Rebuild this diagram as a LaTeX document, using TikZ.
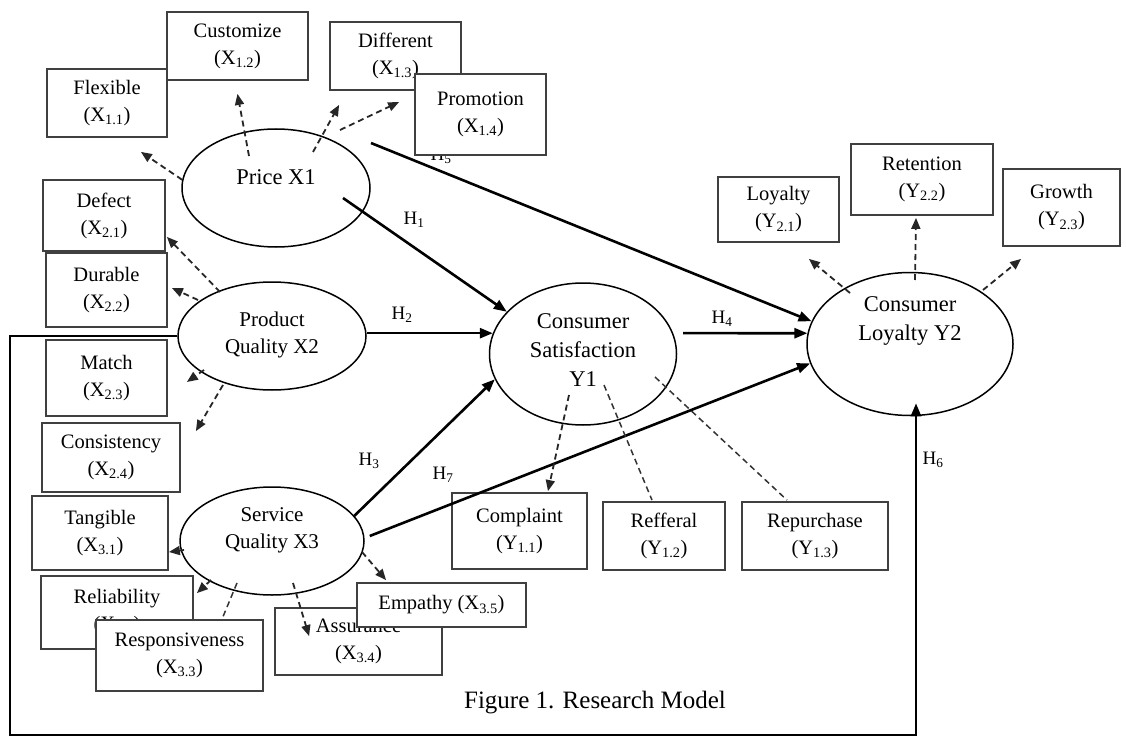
\documentclass[tikz,border=0pt]{standalone}
\usepackage{fontspec}
\setmainfont{Liberation Serif}
\usetikzlibrary{arrows.meta,shapes.geometric,calc}
\begin{document}
\begin{tikzpicture}[x=1pt,y=-1pt,
  box/.style={draw=black!75, line width=1.8pt, fill=white, align=center, inner sep=0pt, font=\fontsize{20.5}{27}\selectfont},
  ell/.style={draw, ellipse, line width=1.5pt, inner sep=0pt},
  elltext/.style={align=center, inner sep=0pt, font=\fontsize{22.5}{29}\selectfont},
  elltexts/.style={align=center, inner sep=0pt, font=\fontsize{21}{27}\selectfont},
  hyp/.style={line width=2.6pt, -{Triangle[length=13pt,width=10pt]}},
  ind/.style={line width=1.8pt, black!85, dash pattern=on 6pt off 4pt, -{Triangle[length=11pt,width=9pt]}},
  indn/.style={line width=1.5pt, black!80, dash pattern=on 6pt off 4pt},
  hl/.style={font=\fontsize{19}{22}\selectfont, inner sep=0pt}
]
\useasboundingbox[fill=white] (0,0) rectangle (1126,738);

% indicator boxes
\node[box, minimum width=120, minimum height=68] (flex) at (107,103) {Flexible\\(X\textsubscript{1.1})};
\node[box, minimum width=141, minimum height=68] (cust) at (237.5,46) {Customize\\(X\textsubscript{1.2})};
\node[box, minimum width=131, minimum height=68] (diff) at (395.5,56) {Different\\(X\textsubscript{1.3})};
\node[hl, anchor=base] (h5) at (441,161) {H\textsubscript{5}};
\node[box, minimum width=131, minimum height=81] (promo) at (480.5,114.5) {Promotion\\(X\textsubscript{1.4})};
\node[box, minimum width=122, minimum height=71] (defect) at (104,215.5) {Defect\\(X\textsubscript{2.1})};
\node[box, minimum width=121, minimum height=74] (durable) at (106.5,290) {Durable\\(X\textsubscript{2.2})};
\node[box, minimum width=121, minimum height=76] (match) at (106.5,378) {Match\\(X\textsubscript{2.3})};
\node[box, minimum width=138, minimum height=69] (consist) at (111,457.5) {Consistency\\(X\textsubscript{2.4})};
\node[box, minimum width=136, minimum height=74] (tang) at (100,533) {Tangible\\(X\textsubscript{3.1})};
\node[box, minimum width=152, minimum height=73] (rel) at (117,612.5) {Reliability\\(X\textsubscript{3.2})};
\node[box, minimum width=167, minimum height=71] (resp) at (179.5,655.5) {Responsiveness\\(X\textsubscript{3.3})};
\node[box, minimum width=167, minimum height=67] (assur) at (358.5,641.5) {Assurance\\(X\textsubscript{3.4})};
\node[box, minimum width=169, minimum height=44] (emp) at (441.5,605) {Empathy (X\textsubscript{3.5})};
\node[box, minimum width=135, minimum height=76] (compl) at (519.5,531) {Complaint\\(Y\textsubscript{1.1})};
\node[box, minimum width=122, minimum height=68] (reff) at (664,536) {Refferal\\(Y\textsubscript{1.2})};
\node[box, minimum width=146, minimum height=68] (repur) at (815,536) {Repurchase\\(Y\textsubscript{1.3})};
\node[box, minimum width=121, minimum height=65] (loyal) at (778.5,209.5) {Loyalty\\(Y\textsubscript{2.1})};
\node[box, minimum width=142, minimum height=71] (reten) at (922,179.5) {Retention\\(Y\textsubscript{2.2})};
\node[box, minimum width=117, minimum height=77] (growth) at (1061.5,207.5) {Growth\\(Y\textsubscript{2.3})};

% latent variables
\node[ell, minimum width=188, minimum height=118] (price) at (276,188) {};
\node[ell, minimum width=188, minimum height=108] (pq) at (272,336) {};
\node[ell, minimum width=184, minimum height=108] (sq) at (272,541) {};
\node[ell, minimum width=187, minimum height=142] (cs) at (583,354) {};
\node[ell, minimum width=206, minimum height=143] (cl) at (910,344) {};
\node[elltext] (pricet) at (276,177) {Price X1};
\node[elltexts] (pqt) at (272,335) {Product\\Quality X2};
\node[elltexts] (sqt) at (272,530) {Service\\Quality X3};
\node[elltext] (cst) at (583,350) {Consumer\\Satisfaction\\Y1};
\node[elltext] (clt) at (910,321) {Consumer\\Loyalty Y2};

% hypothesis labels
\node[hl] (h1) at (414,220) {H\textsubscript{1}};
\node[hl] (h2) at (402,315) {H\textsubscript{2}};
\node[hl] (h3) at (369,461) {H\textsubscript{3}};
\node[hl] (h4) at (722,319) {H\textsubscript{4}};
\node[hl] (h6) at (933,460) {H\textsubscript{6}};
\node[hl] (h7) at (443,475) {H\textsubscript{7}};

% caption
\node[font=\fontsize{25}{29}\selectfont, inner sep=0pt] (cap) at (595,703) {Figure 1. Research Model};

% structural paths
\coordinate (fb1) at (10,735);
\coordinate (fb2) at (916,735);
\coordinate (h5s) at (371,143);
\draw[hyp] (pq.west) -| (fb1) -- (fb2) -- ([shift={(6,-13)}]cl.south);
\draw[hyp] ([shift={(67,10)}]price.center) -- (cs.151);
\draw[hyp] (pq.east |- cs.167) -- (cs.167);
\draw[hyp] (sq.17) -- (cs.196);
\draw[hyp] ([shift={(10,0)}]cs.13) -- (cl.174);
\draw[hyp] (h5s) -- (cl.167);
\draw[hyp] ([shift={(5,-5)}]sq.east) -- (cl.191);

% measurement paths
\draw[ind] (price.175) -- ([shift={(-27,14)}]flex.south east);
\draw[ind] ([shift={(-27,-32)}]price.center) -- ([shift={(0,13)}]cust.south);
\draw[ind] ([shift={(37,-36)}]price.center) -- ([shift={(10,14)}]diff.south west);
\draw[ind] ([shift={(64,-58)}]price.center) -- ([shift={(-15,-12.5)}]promo.west);
\draw[ind] ([shift={(-52,-44)}]pq.center) -- ([shift={(1,-15)}]defect.south east);
\draw[ind] ([shift={(-74,-36)}]pq.center) -- ([shift={(4,-2)}]durable.east);
\draw[ind] ([shift={(-68,34)}]pq.center) -- ([shift={(19,4)}]match.east);
\draw[ind] ([shift={(-49,49)}]pq.center) -- ([shift={(15,9)}]consist.north east);
\draw[ind] ([shift={(-88,9)}]sq.center) -- ([shift={(0,19)}]tang.east);
\draw[ind] ([shift={(-61,39)}]sq.center) -- ([shift={(3,18)}]rel.north east);
\draw[indn] ([shift={(-35,42)}]sq.center) -- ([shift={(42.5,0)}]resp.north);
\draw[ind] ([shift={(21,42)}]sq.center) -- ([shift={(35,29)}]assur.north west);
\draw[ind] ([shift={(90,11)}]sq.center) -- ([shift={(30,-2)}]emp.north west);
\draw[ind] ([shift={(-14,41)}]cs.center) -- ([shift={(28.5,-1)}]compl.north);
\draw[indn] ([shift={(21,31)}]cs.center) -- ([shift={(-12,-1)}]reff.north);
\draw[indn] ([shift={(72,23)}]cs.center) -- ([shift={(-28,-1)}]repur.north);
\draw[ind] ([shift={(-60,-51)}]cl.center) -- ([shift={(-31,16)}]loyal.south east);
\draw[ind] ([shift={(5,-64)}]cl.center) -- ([shift={(-6,2)}]reten.south);
\draw[ind] ([shift={(73,-54)}]cl.center) -- ([shift={(19,12)}]growth.south west);
\end{tikzpicture}
\end{document}
